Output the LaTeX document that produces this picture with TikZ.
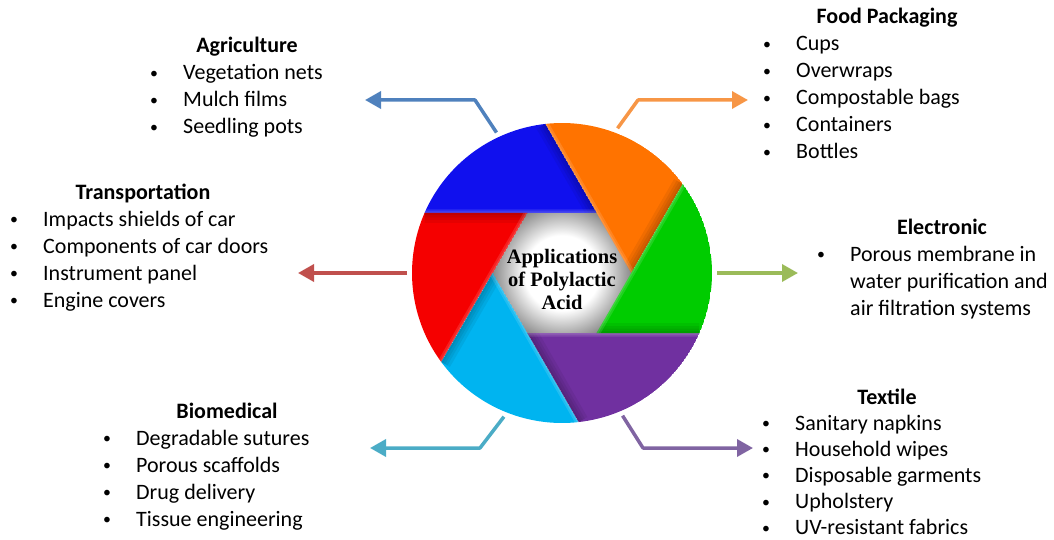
\documentclass[tikz,border=0pt]{standalone}
\usepackage{fontspec}
\setmainfont{Carlito}
\newfontfamily\plafont{Liberation Serif}
\usetikzlibrary{arrows.meta}
\definecolor{bladeblue}{HTML}{1010EE}
\definecolor{bladeorange}{HTML}{FF7300}
\definecolor{bladegreen}{HTML}{00CC00}
\definecolor{bladepurple}{HTML}{7030A0}
\definecolor{bladecyan}{HTML}{00B4F0}
\definecolor{bladered}{HTML}{F50000}
\definecolor{agriblue}{HTML}{4F81BD}
\definecolor{foodorange}{HTML}{F79646}
\definecolor{transred}{HTML}{C0504D}
\definecolor{elecgreen}{HTML}{9BBB59}
\definecolor{biocyan}{HTML}{4BACC6}
\definecolor{textpurple}{HTML}{8064A2}
\pgfdeclareradialshading{hexglow}{\pgfpoint{0bp}{0bp}}{color(0bp)=(white); color(13bp)=(white); color(25bp)=(black!50); color(50bp)=(black!50)}
\newcommand{\itemdot}{\makebox[33pt][l]{\raisebox{1.5pt}{\scalebox{0.72}{\textbullet}}}}

\begin{document}
\begin{tikzpicture}[
  x=1pt, y=1pt,
  font=\fontsize{22}{27}\selectfont,
  head/.style={font=\fontsize{22}{27}\selectfont\bfseries, anchor=base, inner sep=0},
  items/.style={anchor=base west, inner sep=0},
  arr/.style={line width=3.5pt, line join=round, -{Triangle[length=16pt, width=17pt]}}
]
\useasboundingbox (0,0) rectangle (1054,-540);

% aperture wheel: grey hole and six blades, each shaded along its lower edge
\begin{scope}[shift={(562,-273)}]
  \shade[shading=hexglow] (0,0) circle[radius=72];
  \foreach \ang/\col in {0/bladeorange, 60/bladeblue, 120/bladered, 180/bladecyan, 240/bladepurple, 300/bladegreen} {
    \begin{scope}
      \clip (\ang:69.3) -- (\ang+36.4:150) arc[start angle=\ang+36.4, end angle=\ang+96.4, radius=150] -- cycle;
      \fill[\col] (\ang:69.3) -- (\ang+36.4:150) arc[start angle=\ang+36.4, end angle=\ang+96.4, radius=150] -- cycle;
      \foreach \w in {4,9,14,20}
        \draw[black, opacity=0.06, line width=\w pt] (\ang:69.3) -- (\ang+36.4:150);
      \foreach \w in {3,7}
        \draw[white, opacity=0.12, line width=\w pt] (\ang:69.3) -- (\ang+96.4:150);
    \end{scope}
  }
\end{scope}
\node[circle, minimum size=300pt, inner sep=0, outer sep=5pt] (wheel) at (562,-273) {};
\node[font={\plafont\fontsize{20.5}{23}\selectfont\bfseries}, align=center] (pla) at (562,-279) {Applications\\of Polylactic\\Acid};

% headings
\node[head] (agri-head) at (247,-53) {Agriculture};
\node[head] (trans-head) at (143,-200) {Transportation};
\node[head] (food-head) at (887,-24) {Food Packaging};
\node[head] (elec-head) at (942,-234) {Electronic};
\node[head] (bio-head) at (227,-418) {Biomedical};
\node[head] (tex-head) at (887,-404) {Textile};

% bullet lists
\node[items] (agri-list) at (150,-80) {\begin{tabular}[t]{@{}l@{}}
  \itemdot Vegetation nets\\ \itemdot Mulch films\\ \itemdot Seedling pots
\end{tabular}};
\node[items] (trans-list) at (10,-226) {\begin{tabular}[t]{@{}l@{}}
  \itemdot Impacts shields of car\\ \itemdot Components of car doors\\
  \itemdot Instrument panel\\ \itemdot Engine covers
\end{tabular}};
\node[items] (food-list) at (763,-51) {\begin{tabular}[t]{@{}l@{}}
  \itemdot Cups\\ \itemdot Overwraps\\ \itemdot Compostable bags\\
  \itemdot Containers\\ \itemdot Bottles
\end{tabular}};
\node[items] (elec-list) at (817,-261) {\begin{tabular}[t]{@{}l@{}}
  \itemdot Porous membrane in\\ \makebox[33pt]{}water purification and\\
  \makebox[33pt]{}air filtration systems
\end{tabular}};
\node[items] (bio-list) at (103,-445) {\begin{tabular}[t]{@{}l@{}}
  \itemdot Degradable sutures\\ \itemdot Porous scaffolds\\
  \itemdot Drug delivery\\ \itemdot Tissue engineering
\end{tabular}};
\node[items] (tex-list) at (762,-430) {\renewcommand{\arraystretch}{0.97}\begin{tabular}[t]{@{}l@{}}
  \itemdot Sanitary napkins\\ \itemdot Household wipes\\
  \itemdot Disposable garments\\ \itemdot Upholstery\\ \itemdot UV-resistant fabrics
\end{tabular}};

% arrow ends and bends
\coordinate (agri-bend) at (475,-100);
\coordinate (agri-tip) at (365,-100);
\coordinate (food-bend) at (638,-100);
\coordinate (food-tip) at (748,-100);
\coordinate (trans-tip) at (298,-273);
\coordinate (elec-tip) at (798,-273);
\coordinate (bio-bend) at (480,-448);
\coordinate (bio-tip) at (370,-448);
\coordinate (tex-bend) at (643,-448);
\coordinate (tex-tip) at (753,-448);

\draw[arr, agriblue] (wheel.115) -- (agri-bend) -- (agri-tip);
\draw[arr, foodorange] (wheel.69) -- (food-bend) -- (food-tip);
\draw[arr, transred] (wheel.180) -- (trans-tip);
\draw[arr, elecgreen] (wheel.0) -- (elec-tip);
\draw[arr, biocyan] (wheel.248) -- (bio-bend) -- (bio-tip);
\draw[arr, textpurple] (wheel.293) -- (tex-bend) -- (tex-tip);
\end{tikzpicture}
\end{document}
